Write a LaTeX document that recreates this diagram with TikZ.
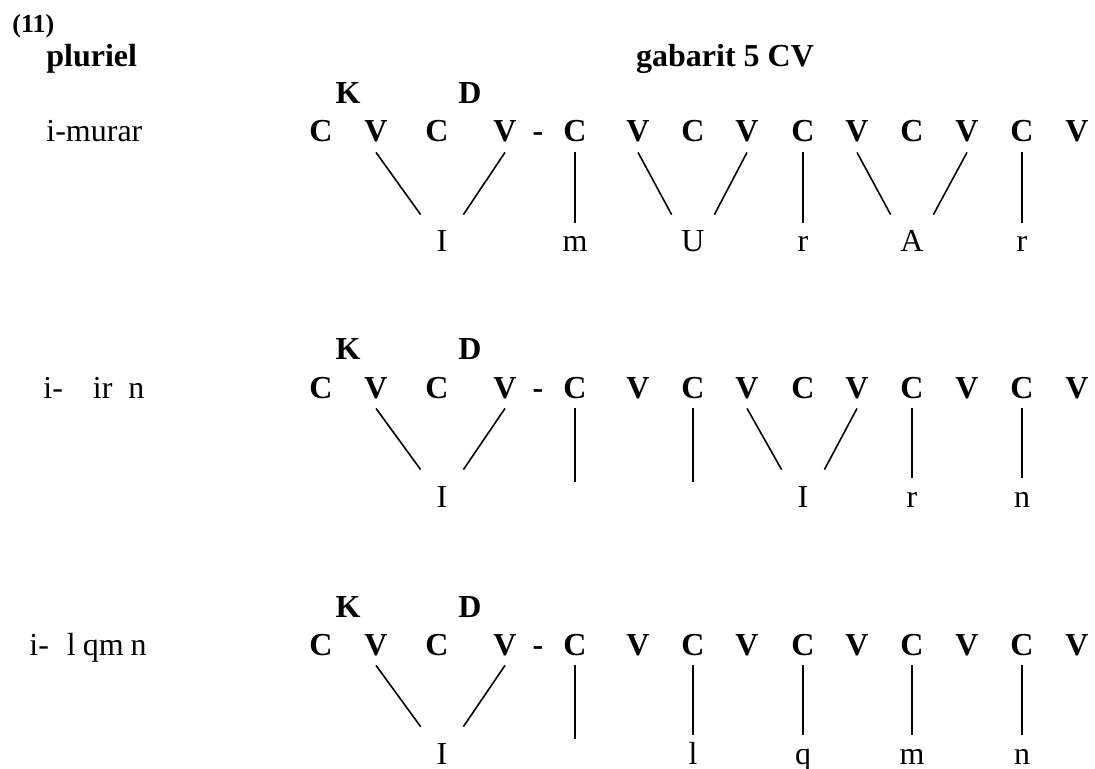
\documentclass[tikz,border=0pt]{standalone}
\usepackage{fontspec}
\setmainfont{Liberation Serif}
\usepackage{tikz}
\usetikzlibrary{positioning}

\begin{document}
\begin{tikzpicture}[x=0.5pt, y=-0.5pt, font=\fontsize{16}{19}\selectfont,
  slot/.style={font=\fontsize{16}{19}\selectfont\bfseries, anchor=base, text height=11pt, text depth=0pt, inner ysep=5pt},
  seg/.style={anchor=base, text height=11pt, text depth=0pt, inner ysep=7.5pt, inner xsep=0pt, minimum width=21pt},
  word/.style={anchor=base west, inner sep=0pt},
  tie/.style={line width=0.8pt}]
\useasboundingbox (0,0) rectangle (1095,769);
% headings
\node[word, font=\fontsize{13}{15}\selectfont\bfseries] (num) at (12,33) {(11)};
\node[word, font=\fontsize{16}{19}\selectfont\bfseries] (plur) at (46,67) {pluriel};
\node[anchor=base, font=\fontsize{16}{19}\selectfont\bfseries] (gab) at (725,67) {gabarit 5 CV};
% word forms
\node[word] (wa) at (46,142) {i-murar};
\node[word] (wb) at (43,398) {i-\hspace{15pt}ir\hspace{8pt}n};
\node[word] (wc) at (29,655) {i-\hspace{9pt}l\hspace{3.5pt}qm\hspace{3.5pt}n};
% CV skeleton, one per row
\foreach \row/\y in {a/142, b/398, c/655} {
  \foreach \slot/\x/\lab in {1/321/C, 2/376/V, 3/437/C, 4/505/V, 5/575/C, 6/638/V, 7/693/C,
                             8/747/V, 9/803/C, 10/857/V, 11/912/C, 12/967/V, 13/1022/C, 14/1077/V}
    \node[slot] (\row\slot) at (\x,\y) {\lab};
  \node[slot] (\row dash) at (538,\y) {-};
  \node[slot] (\row K) at (348,\y-38) {K};
  \node[slot] (\row D) at (470,\y-38) {D};
}
% melody: i-murar
\node[seg] (aI) at (442,252) {I};
\node[seg] (am) at (575,252) {m};
\node[seg] (aU) at (693,252) {U};
\node[seg] (ar) at (803,252) {r};
\node[seg] (aA) at (912,252) {A};
\node[seg] (ar2) at (1022,252) {r};
% melody: i- ir n
\node[seg] (bI) at (442,507) {I};
\coordinate (bx1) at (575,474);
\coordinate (bx2) at (693,474);
\node[seg] (bI2) at (803,507) {I};
\node[seg] (br) at (912,507) {r};
\node[seg] (bn) at (1022,507) {n};
% melody: i- l qm n
\node[seg] (cI) at (442,764) {I};
\coordinate (cx1) at (575,731);
\node[seg] (cl) at (693,764) {l};
\node[seg] (cq) at (803,764) {q};
\node[seg] (cm) at (912,764) {m};
\node[seg] (cn) at (1022,764) {n};
% association lines
\foreach \from/\to in {a2/aI.north west, a4/aI.north east, a6/aU.north west, a8/aU.north east,
                       a10/aA.north west, a12/aA.north east,
                       b2/bI.north west, b4/bI.north east, b8/bI2.north west, b10/bI2.north east,
                       c2/cI.north west, c4/cI.north east}
  \draw[tie] (\from.south) -- (\to);
\foreach \from/\to in {a5/am.north, a9/ar.north, a13/ar2.north, b5/bx1, b7/bx2, b11/br.north,
                       b13/bn.north, c5/cx1, c7/cl.north, c9/cq.north, c11/cm.north, c13/cn.north}
  \draw[tie, shorten >=-4pt] (\from.south) -- (\to);
\end{tikzpicture}
\end{document}
